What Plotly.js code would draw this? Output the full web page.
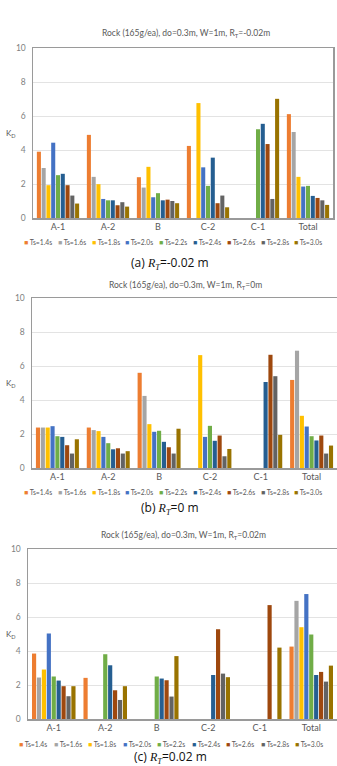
<!DOCTYPE html>
<html>
<head>
<meta charset="utf-8">
<script src="https://cdn.plot.ly/plotly-3.0.1.min.js"></script>
<style>
  html, body { margin: 0; padding: 0; background: #fff; }
  #chart { width: 337px; height: 766px; }
</style>
</head>
<body>
<div id="chart"></div>
<script>
// Stability coefficient K_D per section, for each wave period Ts
const categories = ['A-1', 'A-2', 'B', 'C-2', 'C-1', 'Total'];
const seriesNames = ['Ts=1.4s', 'Ts=1.6s', 'Ts=1.8s', 'Ts=2.0s', 'Ts=2.2s', 'Ts=2.4s', 'Ts=2.6s', 'Ts=2.8s', 'Ts=3.0s'];
const seriesColors = ['#ED7D31', '#A5A5A5', '#FFC000', '#4472C4', '#70AD47', '#255E91', '#9E480E', '#636363', '#997300'];
const yTicks = [0, 2, 4, 6, 8, 10];

// (a) R_T = -0.02 m  (one row per Ts, columns follow categories)
const kdRtMinus = [
  [3.90, 4.89, 2.40, 4.24, null, 6.11],
  [2.94, 2.42, 1.79, null, null, 5.06],
  [1.93, 1.99, 3.01, 6.76, null, 2.42],
  [4.43, 1.12, 1.22, 2.98, null, 1.85],
  [2.52, 1.04, 1.46, 1.89, 5.22, 1.89],
  [2.60, 1.04, 1.04, 3.55, 5.54, 1.30],
  [1.93, 0.75, 1.08, 0.87, 4.35, 1.18],
  [1.32, 0.93, 1.00, 1.32, 1.12, 1.04],
  [0.85, 0.67, 0.87, 0.63, 7.01, 0.77]
];

// (b) R_T = 0 m
const kdRtZero = [
  [2.38, 2.38, 5.60, null, null, 5.18],
  [2.38, 2.23, 4.24, null, null, 6.90],
  [2.38, 2.17, 2.58, 6.64, null, 3.07],
  [2.46, 1.83, 2.13, 1.83, null, 2.44],
  [1.87, 1.46, 2.19, 2.48, null, 1.87],
  [1.83, 1.10, 1.54, 1.60, 5.06, 1.62],
  [1.34, 1.16, 1.22, 1.91, 6.66, 1.91],
  [0.85, 0.85, 0.85, 0.69, 5.40, 0.85],
  [1.69, 0.99, 2.31, 1.12, 1.95, 1.32]
];

// (c) R_T = 0.02 m
const kdRtPlus = [
  [3.85, 2.42, null, null, null, 4.26],
  [2.44, null, null, null, null, 6.95],
  [2.91, null, null, null, null, 5.40],
  [5.03, null, null, null, null, 7.35],
  [2.50, 3.81, 2.50, null, null, 4.97],
  [2.26, 3.16, 2.38, 2.59, null, 2.59],
  [1.93, 1.69, 2.28, 5.28, 6.70, 2.77],
  [1.34, 1.12, 1.32, 2.67, null, 2.20],
  [1.93, 1.93, 3.70, 2.46, 4.20, 3.14]
];

const chartTitles = [
  'Rock (165g/ea), do=0.3m, W=1m, R<sub>T</sub>=-0.02m',
  'Rock (165g/ea), do=0.3m, W=1m, R<sub>T</sub>=0m',
  'Rock (165g/ea), do=0.3m, W=1m, R<sub>T</sub>=0.02m'
];
const captionLetters = ['(a)', '(b)', '(c)'];
const captionValues = ['=-0.02 m', '=0 m', '=0.02 m'];

const W = 337, H = 766;
const px = v => v / W;
const py = v => 1 - v / H;

// pixel geometry of each panel: plot left/right, top (K_D=10), bottom (K_D=0)
const panels = [
  { data: kdRtMinus, left: 33, right: 333, top: 48,  bottom: 218, titleY: 33,  catY: 228, legY: 242, legX0: 22, legStep: 33.8, capY: 263 },
  { data: kdRtZero,  left: 32, right: 337, top: 298, bottom: 468, titleY: 285, catY: 478, legY: 492, legX0: 22, legStep: 33.8, capY: 508 },
  { data: kdRtPlus,  left: 28, right: 337, top: 549, bottom: 719, titleY: 535, catY: 730, legY: 744, legX0: 17, legStep: 34.5, capY: 757 }
];

const FONT = 'Lato, "Open Sans", sans-serif';
const traces = [];
const annotations = [];
const layout = {
  width: W, height: H,
  margin: { l: 0, r: 0, t: 0, b: 0 },
  paper_bgcolor: '#ffffff',
  plot_bgcolor: '#ffffff',
  barmode: 'group',
  bargap: 0.14,
  bargroupgap: 0.15,
  showlegend: false,
  font: { family: FONT, color: '#595959' },
  annotations: annotations
};

panels.forEach((p, i) => {
  const n = i === 0 ? '' : String(i + 1);
  const xName = 'x' + n, yName = 'y' + n;

  p.data.forEach((vals, s) => {
    traces.push({
      type: 'bar',
      x: categories,
      y: vals,
      name: seriesNames[s],
      marker: { color: seriesColors[s], line: { width: 0 } },
      xaxis: xName,
      yaxis: yName,
      hoverinfo: 'x+y+name'
    });
  });

  layout['xaxis' + n] = {
    domain: [px(p.left), Math.min(1, px(p.right))],
    anchor: yName,
    type: 'category',
    showline: true, linecolor: '#9a9a9a', linewidth: 1.5, mirror: true,
    showgrid: false, ticks: '',
    tickfont: { size: 9, color: '#595959', family: FONT },
    fixedrange: true
  };
  layout['yaxis' + n] = {
    domain: [py(p.bottom), py(p.top)],
    anchor: xName,
    range: [0, 10],
    tickvals: yTicks,
    showline: true, linecolor: '#9a9a9a', linewidth: 1.5, mirror: true,
    showgrid: true, gridcolor: '#e3e3e3', gridwidth: 1,
    zeroline: false, ticks: '',
    ticklabelstandoff: 4,
    tickfont: { size: 8.5, color: '#7f7f7f', family: FONT },
    fixedrange: true
  };

  // chart title
  annotations.push({
    xref: 'paper', yref: 'paper', x: px((p.left + Math.min(p.right, 333)) / 2 + 3), y: py(p.titleY),
    xanchor: 'center', yanchor: 'middle', showarrow: false,
    text: chartTitles[i], font: { size: 8.5, color: '#595959', family: FONT }
  });

  // vertical axis label
  annotations.push({
    xref: 'paper', yref: 'paper', x: px(11), y: py((p.top + p.bottom) / 2),
    xanchor: 'center', yanchor: 'middle', showarrow: false,
    text: 'K<sub>D</sub>', font: { size: 8, color: '#595959', family: FONT }
  });

  // legend row, built from the series names and colours
  seriesNames.forEach((name, s) => {
    annotations.push({
      xref: 'paper', yref: 'paper', x: px(p.legX0 + s * p.legStep), y: py(p.legY),
      xanchor: 'left', yanchor: 'middle', showarrow: false,
      text: '<span style="color:' + seriesColors[s] + '">■</span> ' + name,
      font: { size: 6.8, color: '#595959', family: FONT }
    });
  });

  // figure caption
  annotations.push({
    xref: 'paper', yref: 'paper', x: px(170), y: py(p.capY),
    xanchor: 'center', yanchor: 'middle', showarrow: false,
    text: captionLetters[i] + ' <span style="font-family:\'Liberation Serif\',\'DejaVu Serif\',serif"><i>R<sub>T</sub></i></span>' + captionValues[i],
    font: { size: 12, color: '#111111', family: '"Open Sans", "Noto Sans", sans-serif' }
  });
});

Plotly.newPlot('chart', traces, layout, { staticPlot: true, displayModeBar: false });
</script>
</body>
</html>
